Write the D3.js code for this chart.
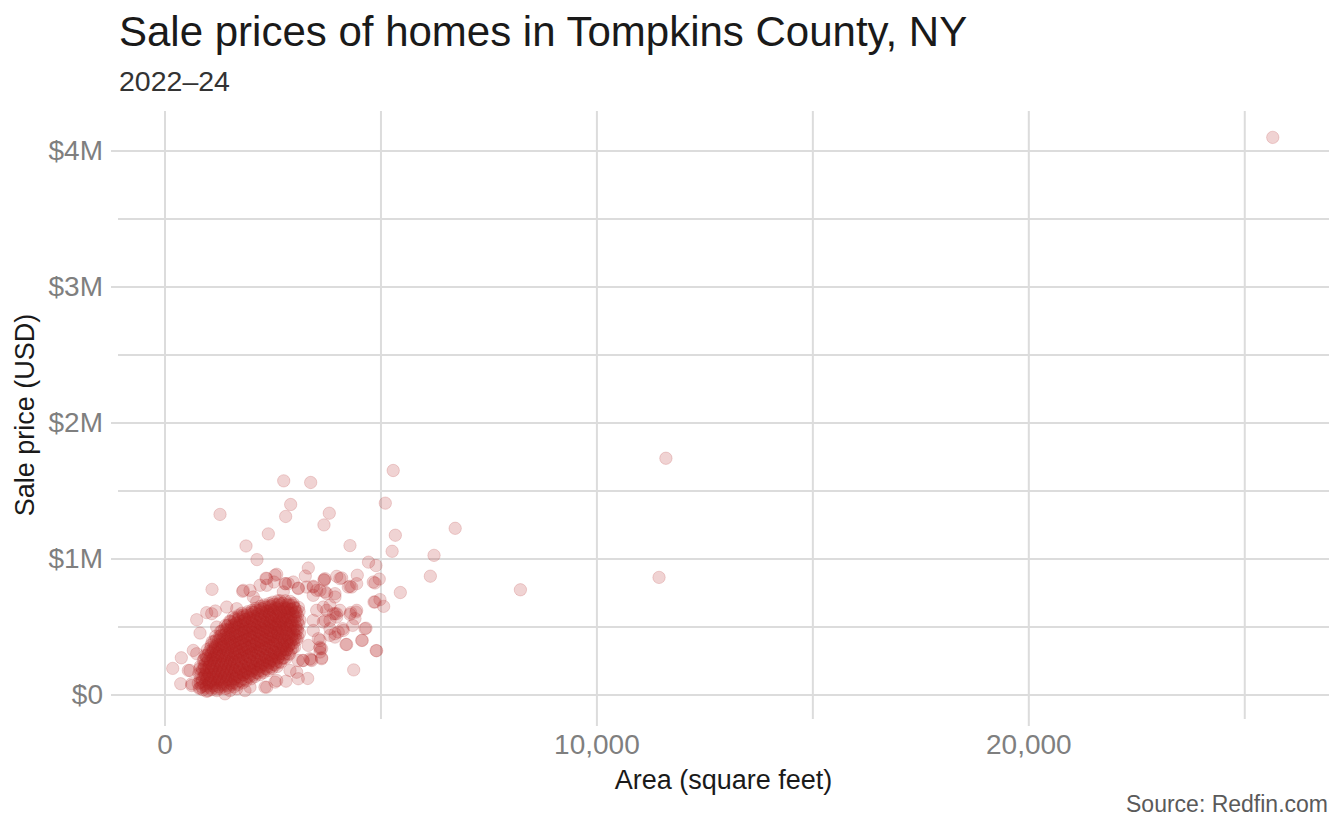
<!DOCTYPE html>
<html>
<head>
<meta charset="utf-8">
<script src="https://cdn.jsdelivr.net/npm/d3@7"></script>
<style>
  body { margin: 0; background: #fff; }
  svg text { font-family: "Liberation Sans", Arial, Helvetica, sans-serif; }
</style>
</head>
<body>
<div id="chart"></div>
<script>
const svgWidth = 1344
const svgHeight = 830

const xTicks = [0, 10000, 20000]
const xMinorTicks = [5000, 15000, 25000]
const yTicks = [0, 1e6, 2e6, 3e6, 4e6]
const yMinorTicks = [0.5e6, 1.5e6, 2.5e6, 3.5e6]

// every sale is [area in sq ft, sale price in $K]

// the few big / expensive ones
const outlierSales = [
  [25660, 4096], [11609, 1737], [11450, 861], [8240, 770], [6730, 1222], [6240, 1023],
  [6155, 870], [5295, 1647], [5112, 1407], [5344, 1171], [5270, 1053], [5460, 750],
  [4900, 323], [4380, 181], [2760, 1571], [3384, 1559], [2921, 1397], [2805, 1309],
  [3815, 1333], [3692, 1247], [1285, 1324], [4294, 1095], [2403, 1181], [1887, 1092],
  [2141, 992], [4723, 973], [4896, 948], [3329, 930], [3260, 871]
]

// loose points around the dense cloud
const fringeSales = [
  [4972, 849], [4873, 820], [4463, 877], [4449, 815], [4062, 852], [4255, 790], [3700, 840],
  [4873, 680], [4988, 698], [5074, 648], [4433, 606], [4310, 602], [3986, 594], [3676, 533],
  [4664, 488], [4356, 508], [4125, 484], [3947, 447], [4579, 398], [4201, 368], [4912, 322],
  [3600, 337], [3638, 270], [3199, 250], [3315, 118], [2812, 98], [3391, 256],
  [1100, 773], [1810, 759], [2211, 803], [2535, 827], [2805, 815], [3097, 783], [3692, 845],
  [3986, 869], [4102, 857], [2597, 884], [2350, 855],
  [389, 270], [190, 192], [375, 79], [745, 550], [822, 452], [977, 602], [1176, 614],
  [745, 300], [590, 177], [630, 79], [822, 49], [977, 24], [1516, 29],
  [2558, 877], [3715, 852], [1208, 496], [1671, 631], [2134, 680], [551, 177], [630, 66],
  [667, 324], [938, 287], [2326, 54], [2558, 91], [1863, 29], [1400, 5], [3407, 250],
  [3638, 263], [3097, 250], [3638, 337], [3329, 361], [3560, 410], [3831, 435], [4023, 459],
  [3715, 545], [3947, 594], [3523, 619], [3831, 656], [3444, 729], [3715, 754], [3947, 742],
  [2866, 815], [3097, 779], [2750, 754], [1979, 766], [3097, 116],
  [2789, 815], [3444, 790], [3600, 766], [3754, 742], [3947, 717], [3676, 643], [3907, 594],
  [3444, 545], [3831, 484], [3444, 471], [3600, 398], [3600, 312], [3213, 250], [2905, 177],
  [2366, 852], [3444, 796], [4294, 796], [4333, 790], [4833, 827], [4850, 680], [4449, 619],
  [4294, 589], [4410, 558], [3986, 569], [4062, 619], [3754, 619], [3831, 545], [4139, 471],
  [4565, 398], [4218, 368], [3600, 348], [3368, 263], [3060, 164], [2597, 103], [2366, 54],
  [1979, 54], [1671, 42], [1208, 29], [1092, 594], [1440, 643], [1824, 766], [2056, 717],
  [2366, 803], [2981, 827], [3291, 790], [3523, 766], [4641, 484], [3947, 422]
]

// the solid cloud, roughly column by column
const coreSales = [
  [805, 45], [780, 82], [830, 118], [795, 152], [815, 188],
  [890, 35], [925, 68], [875, 96], [910, 128], [935, 152], [885, 187], [915, 218], [900, 252],
  [1010, 28], [975, 62], [1030, 88], [990, 122], [1020, 148], [965, 182], [1035, 208],
  [1000, 243], [980, 268], [1025, 302], [995, 332],
  [1090, 36], [1125, 63], [1075, 97], [1110, 126], [1135, 152], [1085, 187], [1115, 213],
  [1070, 248], [1130, 272], [1095, 307], [1120, 333], [1080, 364], [1105, 388],
  [1210, 42], [1180, 68], [1225, 102], [1195, 128], [1235, 162], [1170, 188], [1215, 222],
  [1190, 248], [1230, 282], [1205, 308], [1175, 342], [1220, 368], [1195, 402], [1185, 428],
  [1290, 46], [1325, 74], [1275, 106], [1310, 133], [1335, 166], [1280, 194], [1315, 224],
  [1295, 252], [1330, 286], [1270, 313], [1305, 345], [1320, 372], [1285, 406], [1310, 434],
  [1300, 464],
  [1410, 44], [1385, 77], [1425, 108], [1395, 139], [1430, 170], [1375, 201], [1415, 232],
  [1390, 263], [1435, 294], [1405, 325], [1380, 356], [1420, 387], [1400, 418], [1430, 449],
  [1390, 480], [1410, 508],
  [1490, 52], [1525, 83], [1475, 113], [1510, 144], [1535, 175], [1480, 205], [1515, 236],
  [1495, 266], [1530, 297], [1470, 328], [1505, 358], [1520, 389], [1485, 419], [1515, 450],
  [1500, 481], [1470, 511], [1510, 540],
  [1610, 56], [1585, 86], [1625, 117], [1595, 147], [1630, 177], [1575, 208], [1615, 238],
  [1590, 268], [1635, 298], [1605, 329], [1580, 359], [1620, 389], [1600, 420], [1630, 450],
  [1590, 480], [1610, 510], [1625, 541], [1595, 569],
  [1690, 71], [1725, 101], [1675, 131], [1710, 162], [1735, 192], [1680, 222], [1715, 252],
  [1695, 283], [1730, 313], [1670, 343], [1705, 373], [1720, 404], [1685, 434], [1715, 464],
  [1700, 494], [1670, 525], [1710, 555], [1725, 584],
  [1810, 86], [1785, 116], [1825, 146], [1795, 177], [1830, 207], [1775, 237], [1815, 267],
  [1790, 298], [1835, 328], [1805, 358], [1780, 388], [1820, 419], [1800, 449], [1830, 479],
  [1790, 509], [1810, 540], [1825, 570], [1795, 598],
  [1890, 101], [1925, 131], [1875, 161], [1910, 191], [1935, 221], [1880, 251], [1915, 281],
  [1895, 311], [1930, 341], [1870, 371], [1905, 401], [1920, 431], [1885, 461], [1915, 491],
  [1900, 521], [1870, 551], [1910, 581], [1925, 608],
  [2010, 116], [1985, 147], [2025, 179], [1995, 210], [2030, 242], [1975, 273], [2015, 305],
  [1990, 336], [2035, 368], [2005, 399], [1980, 431], [2020, 462], [2000, 494], [2030, 525],
  [1990, 557], [2010, 588], [2025, 619],
  [2090, 131], [2125, 162], [2075, 194], [2110, 225], [2135, 257], [2080, 288], [2115, 320],
  [2095, 351], [2130, 383], [2070, 414], [2105, 446], [2120, 477], [2085, 509], [2115, 540],
  [2100, 572], [2070, 603], [2110, 633],
  [2210, 146], [2185, 177], [2225, 209], [2195, 240], [2230, 272], [2175, 303], [2215, 335],
  [2190, 366], [2235, 398], [2205, 429], [2180, 461], [2220, 492], [2200, 524], [2230, 555],
  [2190, 587], [2210, 618], [2225, 649],
  [2290, 161], [2325, 192], [2275, 223], [2310, 254], [2335, 286], [2280, 317], [2315, 348],
  [2295, 379], [2330, 411], [2270, 442], [2305, 473], [2320, 504], [2285, 536], [2315, 567],
  [2300, 598], [2270, 629], [2310, 659],
  [2410, 176], [2385, 207], [2425, 238], [2395, 269], [2430, 300], [2375, 331], [2415, 362],
  [2390, 393], [2435, 424], [2405, 455], [2380, 486], [2420, 517], [2400, 548], [2430, 579],
  [2390, 610], [2410, 641], [2425, 669],
  [2490, 191], [2525, 222], [2475, 252], [2510, 283], [2535, 313], [2480, 344], [2515, 374],
  [2495, 405], [2530, 436], [2470, 466], [2505, 497], [2520, 527], [2485, 558], [2515, 588],
  [2500, 619], [2470, 650], [2510, 679],
  [2610, 206], [2585, 236], [2625, 267], [2595, 297], [2630, 327], [2575, 358], [2615, 388],
  [2590, 418], [2635, 448], [2605, 479], [2580, 509], [2620, 539], [2600, 570], [2630, 600],
  [2590, 630], [2610, 661], [2625, 689],
  [2690, 236], [2725, 266], [2675, 297], [2710, 327], [2735, 357], [2680, 387], [2715, 418],
  [2695, 448], [2730, 478], [2670, 508], [2705, 539], [2720, 569], [2685, 599], [2715, 629],
  [2700, 660], [2680, 689],
  [2810, 266], [2785, 296], [2825, 327], [2795, 357], [2830, 387], [2775, 418], [2815, 448],
  [2790, 478], [2835, 509], [2805, 539], [2780, 569], [2820, 600], [2800, 630], [2830, 660],
  [2795, 689],
  [2890, 296], [2925, 326], [2875, 356], [2910, 386], [2935, 416], [2880, 446], [2915, 476],
  [2895, 506], [2930, 536], [2870, 566], [2905, 596], [2920, 626], [2885, 656], [2910, 684],
  [3010, 346], [2985, 378], [3025, 411], [2995, 443], [3030, 476], [2975, 508], [3015, 541],
  [2990, 573], [3035, 606], [3005, 638], [2980, 669],
  [3090, 421], [3125, 452], [3075, 484], [3110, 515], [3135, 547], [3080, 578], [3115, 610],
  [3100, 641]
]

// second pass over the middle of the cloud, between the columns above
const innerCoreSales = [
  [862, 57], [832, 87], [875, 117], [842, 147], [880, 177], [828, 207],
  [962, 50], [932, 80], [975, 110], [942, 140], [980, 170], [928, 200], [955, 230], [922, 260],
  [968, 283],
  [1062, 50], [1032, 80], [1075, 110], [1042, 140], [1080, 170], [1028, 200], [1055, 230],
  [1022, 260], [1068, 290], [1038, 318], [1072, 345],
  [1162, 52], [1132, 82], [1175, 112], [1142, 142], [1180, 172], [1128, 202], [1155, 232],
  [1122, 262], [1168, 292], [1138, 322], [1172, 352], [1145, 388],
  [1262, 57], [1232, 88], [1275, 119], [1242, 150], [1280, 181], [1228, 212], [1255, 243],
  [1222, 274], [1268, 305], [1238, 336], [1272, 367], [1245, 398], [1278, 428],
  [1362, 62], [1332, 93], [1375, 124], [1342, 156], [1380, 187], [1328, 218], [1355, 250],
  [1322, 281], [1368, 312], [1338, 344], [1372, 375], [1345, 406], [1378, 438], [1330, 468],
  [1462, 67], [1432, 98], [1475, 130], [1442, 161], [1480, 192], [1428, 224], [1455, 255],
  [1422, 286], [1468, 318], [1438, 349], [1472, 380], [1445, 412], [1478, 443], [1430, 474],
  [1458, 504],
  [1562, 72], [1532, 103], [1575, 134], [1542, 165], [1580, 196], [1528, 227], [1555, 258],
  [1522, 289], [1568, 320], [1538, 351], [1572, 382], [1545, 413], [1578, 444], [1530, 475],
  [1558, 506], [1525, 535],
  [1662, 82], [1632, 114], [1675, 146], [1642, 178], [1680, 209], [1628, 241], [1655, 273],
  [1622, 305], [1668, 336], [1638, 368], [1672, 400], [1645, 432], [1678, 463], [1630, 495],
  [1658, 527], [1625, 557],
  [1762, 97], [1732, 129], [1775, 160], [1742, 192], [1780, 224], [1728, 255], [1755, 287],
  [1722, 319], [1768, 350], [1738, 382], [1772, 414], [1745, 445], [1778, 477], [1730, 509],
  [1758, 540], [1725, 571],
  [1862, 112], [1832, 144], [1875, 175], [1842, 207], [1880, 238], [1828, 270], [1855, 301],
  [1822, 333], [1868, 364], [1838, 396], [1872, 427], [1845, 459], [1878, 490], [1830, 522],
  [1858, 553], [1825, 584],
  [1962, 127], [1932, 158], [1975, 189], [1942, 221], [1980, 252], [1928, 283], [1955, 314],
  [1922, 346], [1968, 377], [1938, 408], [1972, 439], [1945, 471], [1978, 502], [1930, 533],
  [1958, 564], [1925, 595],
  [2062, 142], [2032, 173], [2075, 204], [2042, 235], [2080, 266], [2028, 297], [2055, 328],
  [2022, 359], [2068, 390], [2038, 421], [2072, 452], [2045, 483], [2078, 514], [2030, 545],
  [2058, 576], [2025, 606],
  [2162, 157], [2132, 188], [2175, 219], [2142, 250], [2180, 281], [2128, 312], [2155, 343],
  [2122, 374], [2168, 405], [2138, 436], [2172, 467], [2145, 498], [2178, 529], [2130, 560],
  [2158, 591], [2125, 621],
  [2262, 172], [2232, 203], [2275, 234], [2242, 265], [2280, 296], [2228, 327], [2255, 358],
  [2222, 389], [2268, 420], [2238, 451], [2272, 482], [2245, 513], [2278, 544], [2230, 575],
  [2258, 606], [2225, 634],
  [2362, 187], [2332, 218], [2375, 248], [2342, 279], [2380, 309], [2328, 340], [2355, 370],
  [2322, 401], [2368, 431], [2338, 462], [2372, 492], [2345, 523], [2378, 553], [2330, 584],
  [2358, 614], [2325, 644],
  [2462, 202], [2432, 232], [2475, 262], [2442, 292], [2480, 322], [2428, 352], [2455, 382],
  [2422, 412], [2468, 442], [2438, 472], [2472, 502], [2445, 532], [2478, 562], [2430, 592],
  [2458, 622], [2425, 653],
  [2562, 217], [2532, 247], [2575, 277], [2542, 307], [2580, 337], [2528, 367], [2555, 397],
  [2522, 427], [2568, 457], [2538, 487], [2572, 517], [2545, 547], [2578, 577], [2530, 607],
  [2558, 637], [2525, 664],
  [2662, 240], [2632, 271], [2675, 302], [2642, 332], [2680, 363], [2628, 394], [2655, 424],
  [2622, 455], [2668, 486], [2638, 516], [2672, 547], [2645, 578], [2678, 608], [2630, 639],
  [2658, 669],
  [2762, 270], [2732, 301], [2775, 332], [2742, 362], [2780, 393], [2728, 424], [2755, 455],
  [2722, 485], [2768, 516], [2738, 547], [2772, 577], [2745, 608], [2778, 639], [2730, 669],
  [2862, 300], [2832, 331], [2875, 361], [2842, 392], [2880, 422], [2828, 453], [2855, 483],
  [2822, 514], [2868, 544], [2838, 575], [2872, 605], [2845, 636], [2878, 667],
  [2962, 340], [2932, 372], [2975, 404], [2942, 436], [2980, 468], [2928, 500], [2955, 532],
  [2922, 564], [2968, 596], [2938, 628], [2972, 657],
  [3062, 402], [3032, 436], [3075, 470], [3042, 504], [3080, 538], [3028, 572], [3055, 606],
  [3022, 634]
]

let margin = { top: 111, right: 15, bottom: 111, left: 118 }
let width = svgWidth - margin.left - margin.right
let height = svgHeight - margin.top - margin.bottom

const pointColor = "#b22222"
const gridColor = "#dcdcdc"

let svg = d3
  .select("#chart")
  .append("svg")
  .attr("width", svgWidth)
  .attr("height", svgHeight)

let chartGroup = svg
  .append("g")
  .attr("transform", `translate(${margin.left}, ${margin.top})`)

let xLinearScale = d3.scaleLinear().domain([-1077, 26962]).range([0, width])
let yLinearScale = d3.scaleLinear().domain([-0.18e6, 4.29e6]).range([height, 0])

// minor grid first
chartGroup.append("g")
  .call(d3.axisBottom(xLinearScale).tickValues(xMinorTicks).tickSize(height).tickFormat(""))
  .call(g => g.select(".domain").remove())
  .call(g => g.selectAll("line").attr("stroke", gridColor).attr("stroke-width", 2))

chartGroup.append("g")
  .attr("transform", `translate(${width}, 0)`)
  .call(d3.axisLeft(yLinearScale).tickValues(yMinorTicks).tickSize(width).tickFormat(""))
  .call(g => g.select(".domain").remove())
  .call(g => g.selectAll("line").attr("stroke", gridColor).attr("stroke-width", 2))

// major grid + ticks + labels in one go
let bottomAxis = d3.axisBottom(xLinearScale)
  .tickValues(xTicks)
  .tickSize(height + 7)
  .tickPadding(8)
  .tickFormat(d3.format(","))

let leftAxis = d3.axisLeft(yLinearScale)
  .tickValues(yTicks)
  .tickSize(width + 7)
  .tickPadding(8)
  .tickFormat(d => "$" + (d === 0 ? "0" : d / 1e6 + "M"))

chartGroup.append("g")
  .call(bottomAxis)
  .call(g => g.select(".domain").remove())
  .call(g => g.selectAll("line").attr("stroke", gridColor).attr("stroke-width", 2))
  .call(g => g.selectAll("text")
    .attr("font-family", '"Liberation Sans", Arial, sans-serif')
    .attr("font-size", "28px")
    .attr("fill", "#7f7f7f"))

chartGroup.append("g")
  .attr("transform", `translate(${width}, 0)`)
  .call(leftAxis)
  .call(g => g.select(".domain").remove())
  .call(g => g.selectAll("line").attr("stroke", gridColor).attr("stroke-width", 2))
  .call(g => g.selectAll("text")
    .attr("font-family", '"Liberation Sans", Arial, sans-serif')
    .attr("font-size", "28px")
    .attr("fill", "#7f7f7f"))

let allSales = coreSales.concat(innerCoreSales, fringeSales, outlierSales)

chartGroup.append("g")
  .selectAll("circle")
  .data(allSales)
  .enter()
  .append("circle")
  .attr("cx", d => xLinearScale(d[0]))
  .attr("cy", d => yLinearScale(d[1] * 1000))
  .attr("r", 6.2)
  .attr("fill", pointColor)
  .attr("fill-opacity", 0.2)
  .attr("stroke", pointColor)
  .attr("stroke-opacity", 0.2)
  .attr("stroke-width", 0.9)

// titles
svg.append("text")
  .attr("x", 119)
  .attr("y", 46)
  .attr("font-size", "42px")
  .attr("fill", "#1a1a1a")
  .text("Sale prices of homes in Tompkins County, NY")

svg.append("text")
  .attr("x", 119)
  .attr("y", 91)
  .attr("font-size", "28.5px")
  .attr("fill", "#333333")
  .text("2022–24")

svg.append("text")
  .attr("x", margin.left + width / 2)
  .attr("y", 789)
  .attr("text-anchor", "middle")
  .attr("font-size", "27px")
  .attr("fill", "#1a1a1a")
  .text("Area (square feet)")

svg.append("text")
  .attr("transform", `translate(34, ${margin.top + height / 2}) rotate(-90)`)
  .attr("text-anchor", "middle")
  .attr("font-size", "27px")
  .attr("fill", "#1a1a1a")
  .text("Sale price (USD)")

svg.append("text")
  .attr("x", 1328)
  .attr("y", 812)
  .attr("text-anchor", "end")
  .attr("font-size", "23px")
  .attr("fill", "#5a5a5a")
  .text("Source: Redfin.com")
</script>
</body>
</html>
